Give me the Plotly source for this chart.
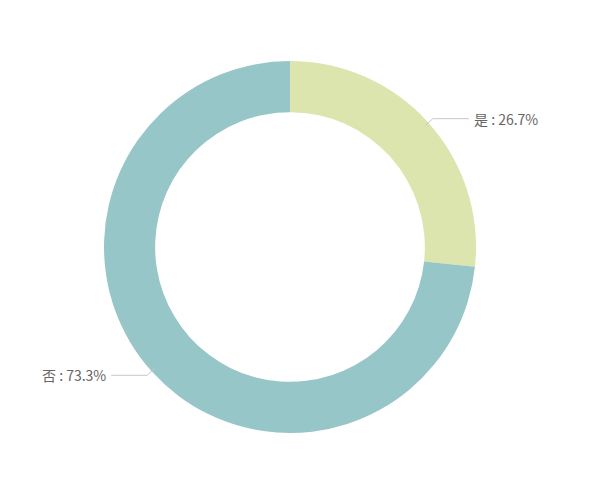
import math
import plotly.graph_objects as go

labels = ["是", "否"]
values = [26.7, 73.3]
colors = ["#dbe5ad", "#97c6c9"]

W, H = 600, 480
OFF = 8  # page body offset
ML, MR, MT, MB = 104 - OFF, 124 + OFF, 61 - OFF, 47 + OFF
R = (W - ML - MR) / 2.0
CX, CY = ML + R, MT + R

def to_paper(px, py):
    return (px - ML) / (W - ML - MR), (H - MB - py) / (H - MT - MB)

fig = go.Figure(go.Pie(
    labels=labels, values=values, hole=0.725, sort=False,
    direction="clockwise", rotation=0,
    marker=dict(colors=colors, line=dict(width=0)),
    textinfo="none", hoverinfo="label+percent", showlegend=False,
))

total = sum(values)
shapes, annotations = [], []
start = 0.0
for lab, v in zip(labels, values):
    frac = v / total
    mid = (start + frac / 2) * 2 * math.pi
    start += frac
    sx, sy = math.sin(mid), -math.cos(mid)
    p0 = (CX + (R - 4) * sx, CY + (R - 4) * sy)
    p1 = (CX + (R + 6) * sx, CY + (R + 6) * sy)
    side = 1 if sx >= 0 else -1
    p2 = (p1[0] + side * 36, p1[1])
    a, b, c = to_paper(*p0), to_paper(*p1), to_paper(*p2)
    shapes.append(dict(type="path", xref="paper", yref="paper",
                       path=f"M {a[0]},{a[1]} L {b[0]},{b[1]} L {c[0]},{c[1]}",
                       line=dict(color="#c8c8c8", width=1)))
    annotations.append(dict(x=c[0], y=c[1], xref="paper", yref="paper",
                            text=f"{lab} : {frac*100:.1f}%", showarrow=False,
                            xanchor="left" if side > 0 else "right", yanchor="middle",
                            xshift=3 * side,
                            font=dict(size=14, color="#666666",
                                      family="Noto Sans CJK SC, Noto Sans, sans-serif")))

fig.update_layout(width=W, height=H, margin=dict(l=ML, r=MR, t=MT, b=MB),
                  paper_bgcolor="white", plot_bgcolor="white",
                  shapes=shapes, annotations=annotations)
fig.write_html("out.html")
